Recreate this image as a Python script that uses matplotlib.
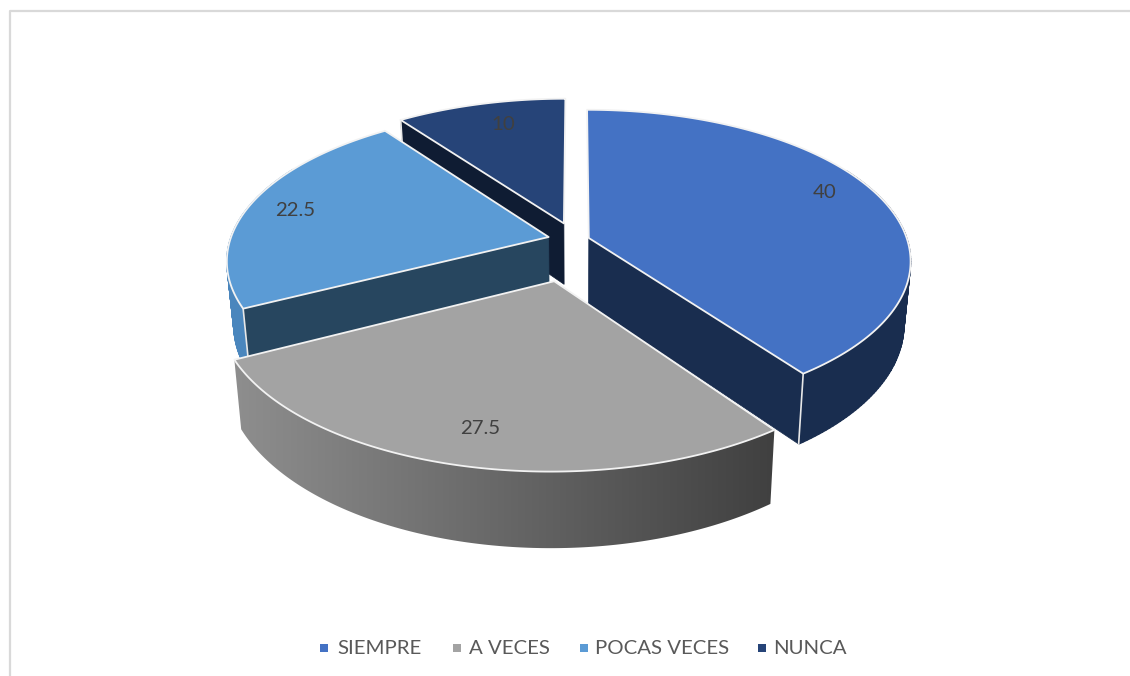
import numpy as np
import matplotlib
matplotlib.use('Agg')
import matplotlib.pyplot as plt
from matplotlib.collections import PolyCollection
from matplotlib.colors import LinearSegmentedColormap
from matplotlib.patches import Polygon, Rectangle

categories = ['SIEMPRE', 'A VECES', 'POCAS VECES', 'NUNCA']
values = [40, 27.5, 22.5, 10]
labels = ['40', '27.5', '22.5', '10']

explode = [0.044, 0.275, 0.087, 0.12]
top_colors = ['#4472c4', '#a3a3a3', '#5b9bd5', '#264478']
rim_colors = ['#192d4f', None, '#4a86bd', '#0f1c33']
face_colors = ['#192d4f', None, '#27465f', '#0f1c33']

plt.rcParams['font.family'] = ['Lato', 'DejaVu Sans']

fig = plt.figure(figsize=(11.3, 6.76), dpi=100)
ax = fig.add_axes([0, 0, 1, 1])
ax.axis('off')

# chart frame, only top and left show up in the crop
ax.plot([1130, 9.5, 9.5], [10.5, 10.5, 676], color='#d9d9d9', lw=1.6, zorder=1)

# perspective used for the tilted pie
cx, cy = 575.5, 240
A, B, p, D = 318.5, 148, 0.15, 62


def project(X, Y, bottom=False):
    s = 1 - p * Y
    if bottom:
        return cx + 0.98 * A * X / s, cy + (B * Y + D) / s
    return cx + A * X / s, cy + B * Y / s


def pts(X, Y, bottom=False):
    return np.column_stack(project(np.asarray(X), np.asarray(Y), bottom))


edges = np.cumsum([0] + values) / sum(values) * 2 * np.pi


def wedge(i):
    a0, a1 = edges[i], edges[i + 1]
    mid = (a0 + a1) / 2
    ox, oy = explode[i] * np.sin(mid), -explode[i] * np.cos(mid)
    t = np.linspace(a0, a1, 160)
    return t, ox, oy, ox + np.sin(t), oy - np.cos(t)


# back slices first so that the front ones cover them
for i in [3, 2, 0, 1]:
    t, ox, oy, X, Y = wedge(i)
    top_arc = pts(X, Y)
    low_arc = pts(X, Y, True)
    apex = pts([ox], [oy])
    apex_low = pts([ox], [oy], True)

    # outer rim, only the part turned to the viewer
    seen = (t > np.radians(60)) & (t < np.radians(300))
    if rim_colors[i] is None:
        rim = np.vstack([top_arc, low_arc[::-1]])
        patch = Polygon(rim, fc='none', ec='none')
        ax.add_patch(patch)
        cmap = LinearSegmentedColormap.from_list('rim', ['#8e8e8e', '#404040'])
        im = ax.imshow(np.linspace(0, 1, 256)[None, :], cmap=cmap, aspect='auto', zorder=1.5,
                       extent=(rim[:, 0].min(), rim[:, 0].max(), 560, 340))
        im.set_clip_path(patch)
    elif seen.sum() > 1:
        up, lo = top_arc[seen], low_arc[seen]
        quads = [[up[k], up[k + 1], lo[k + 1], lo[k]] for k in range(len(up) - 1)]
        ax.add_collection(PolyCollection(quads, facecolors=rim_colors[i],
                                         edgecolors=rim_colors[i], linewidths=1.0, zorder=1.5))

    # cut faces that look towards the viewer
    if i == 0:
        # a bit deeper at the centre so it runs under the gray slice
        q = np.vstack([apex, top_arc[-1], low_arc[-1], apex_low + [0, 4]])
        ax.add_patch(Polygon(q, fc=face_colors[i], ec=face_colors[i], lw=0.5, zorder=1.6))
        ax.plot([top_arc[-1, 0], low_arc[-1, 0]], [top_arc[-1, 1], low_arc[-1, 1]],
                color='#e8e8e8', lw=1.2, zorder=1.7)
    if i in (2, 3):
        q = np.vstack([apex, top_arc[0], low_arc[0], apex_low])
        ax.add_patch(Polygon(q, fc=face_colors[i], ec=face_colors[i], lw=0.5, zorder=1.6))
        ax.plot([top_arc[0, 0], low_arc[0, 0]], [top_arc[0, 1], low_arc[0, 1]],
                color='#e8e8e8', lw=1.2, zorder=1.7)

    ax.add_patch(Polygon(np.vstack([apex, top_arc]), fc=top_colors[i], ec='#f2f2f2',
                         lw=1.3, joinstyle='round', zorder=2))

label_xy = [(825, 193), (480, 429), (295, 211), (503, 125)]
for s, (x, y) in zip(labels, label_xy):
    ax.text(x, y, s, fontsize=14.7, color='#404040', ha='center', va='center', zorder=5)

# legend
marker_x = [324, 457, 583.5, 762]
text_x = [337.5, 469, 595, 773]
for name, col, mx, tx in zip(categories, top_colors, marker_x, text_x):
    ax.add_patch(Rectangle((mx - 4, 643.5), 8, 8, fc=col, ec='none', zorder=5))
    ax.text(tx, 648, name, fontsize=14.7, color='#595959', ha='left', va='center', zorder=5)

ax.set_xlim(0, 1130)
ax.set_ylim(676, 0)

fig.savefig('out.png', dpi=100)
